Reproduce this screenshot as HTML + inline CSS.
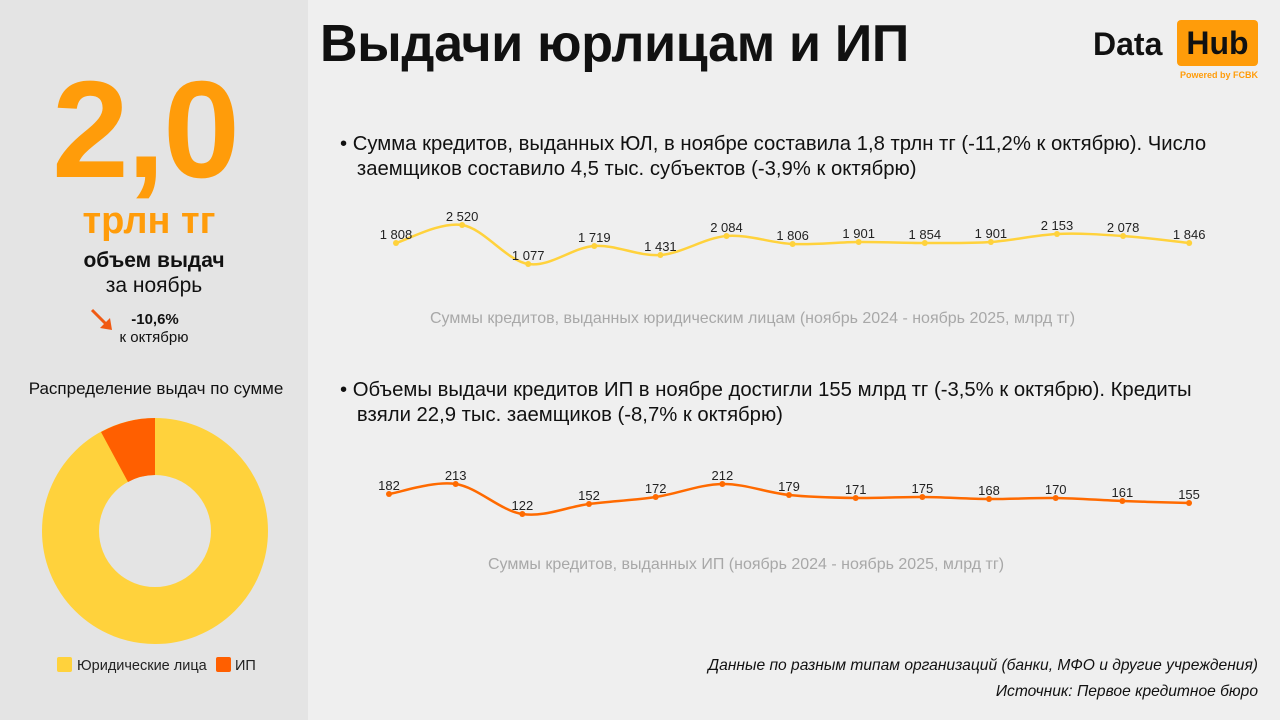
<!DOCTYPE html>
<html><head><meta charset="utf-8">
<style>
*{margin:0;padding:0;box-sizing:border-box}
body{width:1280px;height:720px;overflow:hidden;background:#efefef;font-family:"Liberation Sans","DejaVu Sans",sans-serif;position:relative;color:#111}
.left{position:absolute;left:0;top:0;width:308px;height:720px;background:#e4e4e4}
.abs{position:absolute;white-space:nowrap}
</style></head><body>
<div class="left"></div>
<div class="abs" style="left:0;width:290px;top:60px;text-align:center;font-size:138px;font-weight:bold;color:#ff9c0a;letter-spacing:-2px;line-height:140px">2,0</div>
<div class="abs" style="left:0;width:298px;top:200px;text-align:center;font-size:38px;font-weight:bold;color:#ff9c0a">трлн тг</div>
<div class="abs" style="left:0;width:308px;top:249px;text-align:center;font-size:21px;font-weight:bold">объем выдач</div>
<div class="abs" style="left:0;width:308px;top:274px;text-align:center;font-size:21px">за ноябрь</div>
<div class="abs" style="left:0;width:308px;top:311px;text-align:center;font-size:15px;font-weight:bold;padding-left:2px">-10,6%</div>
<div class="abs" style="left:0;width:308px;top:329px;text-align:center;font-size:15px">к октябрю</div>
<svg class="abs" style="left:88px;top:306px" width="30" height="30"><line x1="4" y1="4" x2="20" y2="20" stroke="#f05a14" stroke-width="3"/><polygon points="24,24 12,22 22,12" fill="#f05a14"/></svg>
<div class="abs" style="left:0;width:312px;top:379px;text-align:center;font-size:17px">Распределение выдач по сумме</div>
<svg class="abs" style="left:0;top:0" width="308" height="720">
<circle cx="155" cy="531" r="84.5" fill="none" stroke="#ffd23c" stroke-width="57"/>
<path d="M155 418 A113 113 0 0 0 101 432 L128 482 A56 56 0 0 1 155 475 Z" fill="#ff5f00"/>
<rect x="57" y="657" width="15" height="15" fill="#ffd23c" rx="2"/>
<rect x="216" y="657" width="15" height="15" fill="#ff5f00" rx="2"/>
<text x="77" y="670" font-size="14.5" fill="#222">Юридические лица</text>
<text x="235" y="670" font-size="14.5" fill="#222">ИП</text>
</svg>
<div class="abs" style="left:320px;top:14px;font-size:52px;font-weight:bold;letter-spacing:-0.3px">Выдачи юрлицам и ИП</div>
<div class="abs" style="left:1093px;top:26px;font-size:32px;font-weight:bold">Data</div>
<div class="abs" style="left:1177px;top:20px;width:81px;height:46px;background:#ff9c0a;border-radius:4px;font-size:32px;font-weight:bold;text-align:center;line-height:47px">Hub</div>
<div class="abs" style="left:1180px;top:70px;font-size:9px;font-weight:bold;color:#ff9c0a">Powered by FCBK</div>
<div class="abs" style="left:340px;top:132px;font-size:20.3px;line-height:25px">• Сумма кредитов, выданных ЮЛ, в ноябре составила 1,8 трлн тг (-11,2% к октябрю). Число<br>&nbsp;&nbsp;&nbsp;заемщиков составило 4,5 тыс. субъектов (-3,9% к октябрю)</div>
<div class="abs" style="left:340px;top:378px;font-size:20.3px;line-height:25px">• Объемы выдачи кредитов ИП в ноябре достигли 155 млрд тг (-3,5% к октябрю). Кредиты<br>&nbsp;&nbsp;&nbsp;взяли 22,9 тыс. заемщиков (-8,7% к октябрю)</div>
<div class="abs" style="left:430px;top:310px;font-size:16px;color:#a8a8a8">Суммы кредитов, выданных юридическим лицам (ноябрь 2024 - ноябрь 2025, млрд тг)</div>
<div class="abs" style="left:488px;top:556px;font-size:16px;color:#a8a8a8">Суммы кредитов, выданных ИП (ноябрь 2024 - ноябрь 2025, млрд тг)</div>
<div class="abs" style="right:22px;top:657px;font-size:15.6px;font-style:italic">Данные по разным типам организаций (банки, МФО и другие учреждения)</div>
<div class="abs" style="right:22px;top:683px;font-size:15.6px;font-style:italic">Источник: Первое кредитное бюро</div>
<svg id="ch" class="abs" style="left:0;top:0" width="1280" height="720"></svg>
<script>
function draw(xs,ys,labels,color,fs){
 let d="M"+xs[0]+" "+ys[0];
 for(let i=0;i<xs.length-1;i++){
  const p0=[xs[Math.max(0,i-1)],ys[Math.max(0,i-1)]],p1=[xs[i],ys[i]],p2=[xs[i+1],ys[i+1]],p3=[xs[Math.min(xs.length-1,i+2)],ys[Math.min(xs.length-1,i+2)]];
  const c1=[p1[0]+(p2[0]-p0[0])/6,p1[1]+(p2[1]-p0[1])/6],c2=[p2[0]-(p3[0]-p1[0])/6,p2[1]-(p3[1]-p1[1])/6];
  d+=` C${c1} ${c2} ${p2}`;
 }
 let s=`<path d="${d}" fill="none" stroke="${color}" stroke-width="2.5"/>`;
 xs.forEach((x,i)=>{s+=`<circle cx="${x}" cy="${ys[i]}" r="3" fill="${color}"/><text x="${x}" y="${ys[i]-4}" font-size="${fs}" text-anchor="middle" fill="#222" font-family="Liberation Sans Narrow, Liberation Sans, sans-serif">${labels[i]}</text>`});
 return s;
}
const x1=[],x2=[];for(let i=0;i<13;i++){x1.push(396+i*66.1);x2.push(389+i*66.67);}
let h=draw(x1,[243,225,264,246,255,236,244,242,243,242,234,236,243],["1 808","2 520","1 077","1 719","1 431","2 084","1 806","1 901","1 854","1 901","2 153","2 078","1 846"],"#ffd23c",13);
h+=draw(x2,[494,484,514,504,497,484,495,498,497,499,498,501,503],["182","213","122","152","172","212","179","171","175","168","170","161","155"],"#ff6a00",13);
document.getElementById("ch").innerHTML=h;
</script>
</body></html>
